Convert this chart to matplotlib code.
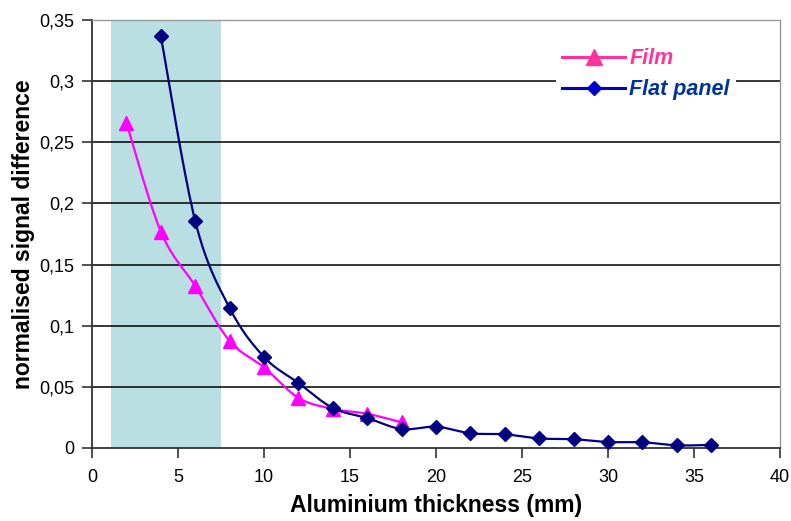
import numpy as np
import matplotlib
matplotlib.use("Agg")
import matplotlib.pyplot as plt
from matplotlib.lines import Line2D
from matplotlib.ticker import FuncFormatter

plt.rcParams['font.family'] = ['Liberation Sans', 'DejaVu Sans']

# Data
film_x = [2, 4, 6, 8, 10, 12, 14, 16, 18]
film_y = [0.266, 0.177, 0.1325, 0.0875, 0.066, 0.041, 0.032, 0.028, 0.021]
flat_x = [4, 6, 8, 10, 12, 14, 16, 18, 20, 22, 24, 26, 28, 30, 32, 34, 36]
flat_y = [0.337, 0.1856, 0.1145, 0.0744, 0.0532, 0.0327, 0.0245, 0.0155, 0.0174,
          0.012, 0.0112, 0.0078, 0.0072, 0.0049, 0.0047, 0.0022, 0.0025]
shade_range = (1.1, 7.5)
x_ticks = [0, 5, 10, 15, 20, 25, 30, 35, 40]
y_ticks = [0, 0.05, 0.1, 0.15, 0.2, 0.25, 0.3, 0.35]

W, H = 791, 521
fig = plt.figure(figsize=(W / 100, H / 100), dpi=100)
ax = fig.add_axes([92 / W, 1 - 448 / H, 688 / W, 428 / H])
ax.set_xlim(0, 40)
ax.set_ylim(0, 0.35)

def smooth(xs, ys, n=20):
    # Catmull-Rom style smoothing in display-normalized space
    sx, sy = 688 / 40.0, 428 / 0.35
    P = np.column_stack([np.asarray(xs) * sx, np.asarray(ys) * sy])
    out = [P[0]]
    for i in range(len(P) - 1):
        p0 = P[i - 1] if i > 0 else P[i]
        p1 = P[i]
        p2 = P[i + 1]
        p3 = P[i + 2] if i + 2 < len(P) else P[i + 1]
        c1 = p1 + (p2 - p0) / 6.0
        c2 = p2 - (p3 - p1) / 6.0
        t = np.linspace(0, 1, n)[1:, None]
        seg = ((1 - t) ** 3) * p1 + 3 * ((1 - t) ** 2) * t * c1 + 3 * (1 - t) * t ** 2 * c2 + t ** 3 * p2
        out.extend(seg)
    out = np.array(out)
    return out[:, 0] / sx, out[:, 1] / sy

ax.axvspan(*shade_range, color='#B9DFE3', zorder=0, lw=0)
for yv in y_ticks[1:-1]:
    ax.axhline(yv, color='black', lw=1.1, zorder=1)

fx, fy = smooth(film_x, film_y)
ax.plot(fx, fy, color='#FF00FF', lw=1.6, zorder=3, clip_on=False)
ax.plot(film_x, film_y, ls='none', marker='^', ms=10, color='#FF00FF', zorder=4, clip_on=False)

px, py = smooth(flat_x, flat_y)
ax.plot(px, py, color='#000080', lw=1.6, zorder=5, clip_on=False)
ax.plot(flat_x, flat_y, ls='none', marker='D', ms=7, color='#000080', zorder=6, clip_on=False)

ax.set_xticks(x_ticks)
ax.set_yticks(y_ticks)
fmt = FuncFormatter(lambda v, p: ('%g' % round(v, 2)).replace('.', ','))
ax.yaxis.set_major_formatter(fmt)
ax.tick_params(axis='both', direction='out', length=7, width=1.2, color='#333333',
               labelsize=13, pad=6)
ax.tick_params(axis='x', pad=8)

for s in ['left', 'bottom']:
    ax.spines[s].set_color('#333333')
    ax.spines[s].set_linewidth(1.3)
for s in ['top', 'right']:
    ax.spines[s].set_color('#999999')
    ax.spines[s].set_linewidth(1.0)

ax.set_xlabel('Aluminium thickness (mm)', fontsize=16.5, fontweight='bold', labelpad=6)
ax.set_ylabel('normalised signal difference', fontsize=16.5, fontweight='bold', labelpad=3)

# Legend
handles = [Line2D([], [], color='#FF3399', lw=2.2, marker='^', ms=11),
           Line2D([], [], color='#0000CC', lw=2.2, marker='D', ms=7)]
leg = ax.legend(handles, ['Film', 'Flat panel'], loc='upper left',
                bbox_to_anchor=((556 - 92) / 688, (448 - 42) / 428),
                frameon=True, framealpha=1, edgecolor='none', fancybox=False,
                prop={'size': 15.5, 'weight': 'bold', 'style': 'italic'},
                handlelength=2.9, handletextpad=0.2, borderpad=0.3, labelspacing=0.45,
                borderaxespad=0)
leg.get_texts()[0].set_color('#FF3399')
leg.get_texts()[1].set_color('#0033A0')
leg.set_zorder(10)

fig.savefig('out.png', dpi=100)
